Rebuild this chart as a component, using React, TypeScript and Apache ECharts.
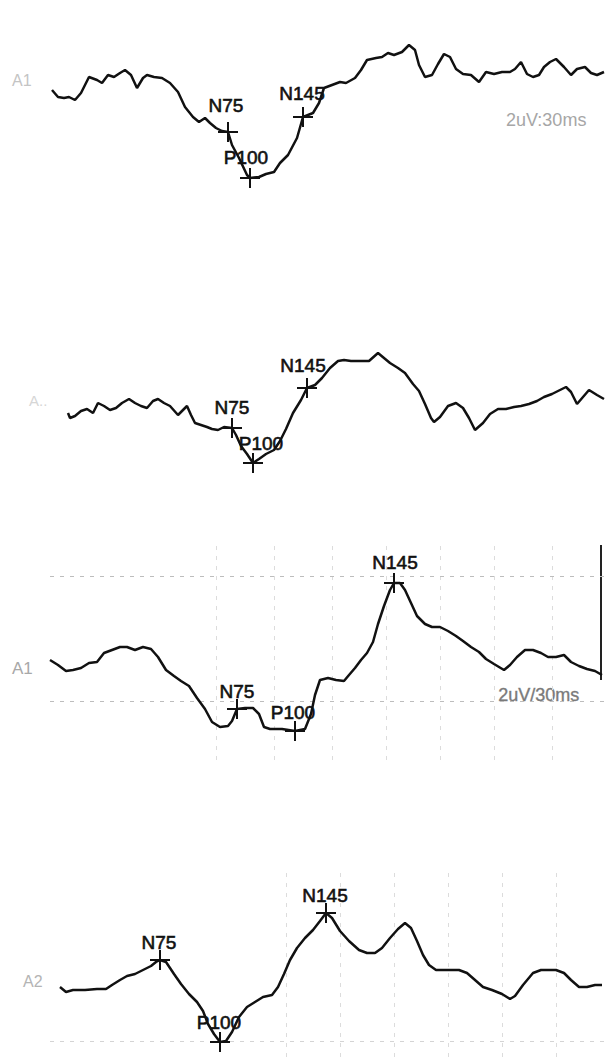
import React, { useEffect, useRef } from "react";
import * as echarts from "echarts";

// Time (ms, relative to trace origin) and amplitude (display units, up = positive)
const peakNames = ["N75", "P100", "N145"];

const tr1Time = [2, 8, 14, 19, 25, 31, 39, 47, 52, 58, 64, 70, 75, 81, 87, 93, 97, 104, 112, 120, 128, 135, 143, 149, 155, 160, 166, 172, 178, 182, 189, 197, 200, 209, 216, 224, 230, 238, 247, 253, 263, 269, 274, 282, 290, 296, 305, 311, 317, 326, 332, 338, 344, 352, 359, 365, 369, 375, 382, 388, 394, 400, 406, 413, 421, 429, 436, 444, 452, 460, 465, 471, 477, 483, 489, 494, 500, 506, 514, 521, 527, 535, 541, 547, 554];
const tr1Amp = [0, -7, -8, -7, -10, -3, 13, 10, 7, 15, 13, 17, 20, 15, 2, 12, 15, 13, 12, 7, -2, -17, -27, -32, -28, -33, -38, -41, -42, -55, -68, -85, -88, -87, -84, -82, -73, -65, -48, -27, -23, -13, 2, 5, 8, 7, 12, 20, 30, 32, 33, 37, 35, 38, 45, 40, 25, 13, 15, 26, 36, 33, 21, 16, 15, 8, 18, 16, 18, 18, 21, 28, 16, 13, 15, 23, 28, 31, 23, 15, 21, 23, 17, 15, 18];
const tr1PeakTime = [178, 200, 253];
const tr1PeakAmp = [-42, -88, -27];

const tr2Time = [18, 20, 25, 31, 37, 43, 48, 54, 60, 66, 72, 79, 85, 91, 97, 103, 108, 114, 120, 128, 133, 137, 141, 145, 151, 157, 162, 168, 174, 182, 186, 191, 197, 203, 209, 216, 224, 230, 236, 243, 251, 257, 265, 272, 280, 288, 294, 301, 309, 319, 328, 334, 340, 348, 355, 363, 369, 375, 381, 384, 390, 398, 406, 413, 419, 425, 433, 440, 448, 456, 464, 471, 479, 487, 494, 502, 510, 516, 521, 527, 533, 539, 547, 554];
const tr2Amp = [0, -5, -3, 2, 4, 0, 10, 7, 3, 5, 10, 14, 10, 7, 5, 12, 14, 10, 7, -2, 3, 7, -2, -10, -12, -14, -16, -17, -14, -15, -22, -33, -41, -50, -46, -41, -37, -28, -16, 0, 13, 25, 28, 35, 45, 52, 53, 52, 52, 52, 60, 55, 50, 45, 40, 29, 22, 9, -5, -9, -4, 7, 10, 5, -5, -17, -10, -1, 4, 4, 6, 7, 9, 12, 16, 19, 23, 26, 21, 9, 16, 23, 18, 14];
const tr2PeakTime = [182, 203, 257];
const tr2PeakAmp = [-15, -50, 25];

const tr3Time = [0, 8, 16, 23, 31, 39, 47, 54, 62, 70, 77, 85, 93, 101, 108, 116, 124, 131, 139, 147, 155, 162, 170, 178, 182, 187, 195, 203, 209, 214, 220, 232, 245, 255, 261, 265, 270, 278, 286, 294, 299, 305, 311, 317, 323, 328, 334, 340, 344, 350, 355, 361, 367, 375, 382, 390, 398, 406, 413, 421, 429, 436, 444, 454, 460, 467, 475, 483, 491, 498, 506, 514, 521, 529, 537, 545, 552];
const tr3Amp = [0, -5, -11, -10, -8, -3, -2, 7, 10, 13, 13, 10, 13, 11, 3, -10, -16, -21, -26, -38, -49, -62, -67, -66, -61, -49, -48, -48, -54, -67, -69, -69, -71, -69, -54, -35, -20, -18, -20, -21, -15, -8, 0, 7, 18, 36, 54, 70, 77, 77, 70, 57, 44, 36, 33, 33, 29, 24, 19, 13, 8, 1, -4, -10, -5, 3, 10, 10, 7, 3, 3, 5, -2, -6, -9, -11, -15];
const tr3PeakTime = [187, 245, 344];
const tr3PeakAmp = [-49, -71, 77];

const tr4Time = [10, 16, 23, 35, 47, 56, 62, 70, 77, 85, 93, 101, 106, 110, 116, 124, 131, 139, 147, 153, 158, 164, 170, 176, 182, 189, 197, 205, 213, 222, 228, 234, 240, 247, 255, 263, 270, 276, 282, 290, 299, 309, 317, 325, 332, 340, 348, 355, 361, 367, 373, 379, 386, 398, 409, 417, 425, 433, 442, 452, 460, 465, 473, 483, 491, 498, 506, 514, 521, 529, 537, 545, 552];
const tr4Amp = [0, -5, -3, -3, -2, -2, 2, 7, 11, 13, 17, 21, 25, 27, 25, 13, 3, -7, -15, -24, -37, -47, -55, -54, -45, -30, -20, -15, -10, -8, 0, 13, 27, 39, 49, 57, 66, 74, 69, 56, 46, 37, 34, 34, 39, 49, 58, 64, 59, 46, 32, 22, 17, 17, 17, 14, 7, 0, -3, -7, -12, -9, 2, 14, 17, 17, 17, 14, 7, 0, 0, 2, 2];
const tr4PeakTime = [110, 170, 276];
const tr4PeakAmp = [27, -55, 74];

// faint chart-paper grid (time / amplitude values)
const grid3Times = [166, 224, 282, 336, 390, 444, 502];
const grid3Amps = [84, -41];
const grid4Times = [236, 290, 344, 398, 452, 506];
const grid4Amps = [-54];

const CROSS = "path://M9,0h2v9h9v2h-9v9h-2v-9h-9v-2h9z";
const FONT = "Liberation Sans, Arial, sans-serif";

const panels = [
  { time: tr1Time, amp: tr1Amp, pt: tr1PeakTime, pa: tr1PeakAmp, top: 20, height: 180, yMax: 70, off: [[-2, -27], [-4, -21], [-1, -24]], gt: [], ga: [], vc: "#ddd", hc: "#ddd" },
  { time: tr2Time, amp: tr2Amp, pt: tr2PeakTime, pa: tr2PeakAmp, top: 330, height: 150, yMax: 83, off: [[0, -21], [8, -20], [-4, -23]], gt: [], ga: [], vc: "#ddd", hc: "#ddd" },
  { time: tr3Time, amp: tr3Amp, pt: tr3PeakTime, pa: tr3PeakAmp, top: 540, height: 220, yMax: 120, off: [[0, -18], [-2, -19], [1, -21]], gt: grid3Times, ga: grid3Amps, vc: "#dcdcdc", hc: "#bdbdbd" },
  { time: tr4Time, amp: tr4Amp, pt: tr4PeakTime, pa: tr4PeakAmp, top: 870, height: 187, yMax: 117, off: [[-1, -18], [-1, -20], [-1, -18]], gt: grid4Times, ga: grid4Amps, vc: "#dcdcdc", hc: "#d4d4d4" },
];

export default function App() {
  const ref = useRef<HTMLDivElement>(null);
  useEffect(() => {
    if (!ref.current) return;
    const chart = echarts.init(ref.current, undefined, { renderer: "svg" });
    const grid = panels.map((p) => ({ left: 50, right: 0, top: p.top, height: p.height, containLabel: false }));
    const xAxis = panels.map((_, i) => ({ type: "value", gridIndex: i, min: 0, max: 555, show: false }));
    const yAxis = panels.map((p, i) => ({ type: "value", gridIndex: i, min: p.yMax - p.height, max: p.yMax, show: false }));
    const series = panels.map((p, i) => ({
      type: "line",
      xAxisIndex: i,
      yAxisIndex: i,
      data: p.time.map((t, k) => [t, p.amp[k]]),
      showSymbol: false,
      lineStyle: { color: "#111", width: 2.5 },
      z: 3,
      markLine: {
        silent: true,
        symbol: ["none", "none"],
        label: { show: false },
        lineStyle: { type: [4, 6], width: 1 },
        data: [
          ...p.gt.map((v) => ({ xAxis: v, lineStyle: { color: p.vc } })),
          ...p.ga.map((v) => ({ yAxis: v, lineStyle: { color: p.hc } })),
        ],
        z: 1,
      },
      markPoint: {
        symbol: CROSS,
        symbolSize: [20, 20],
        itemStyle: { color: "#111" },
        label: {
          show: true,
          position: "inside",
          formatter: "{b}",
          color: "#111",
          fontSize: 19,
          fontFamily: FONT,
          textBorderColor: "#111",
          textBorderWidth: 0.6,
        },
        data: peakNames.map((n, k) => ({
          name: n,
          coord: [p.pt[k], p.pa[k]],
          label: { offset: p.off[k] },
        })),
        z: 5,
      },
    }));
    chart.setOption({
      animation: false,
      backgroundColor: "#ffffff",
      grid,
      xAxis,
      yAxis,
      series,
      graphic: [
        { type: "text", left: 12, top: 72, style: { text: "A1", fontSize: 16, fontFamily: FONT, fill: "#c4c4c4" } },
        { type: "text", left: 29, top: 393, style: { text: "A..", fontSize: 15, fontFamily: FONT, fill: "#d6d6d6" } },
        { type: "text", left: 12, top: 660, style: { text: "A1", fontSize: 17, fontFamily: FONT, fill: "#a8a8a8" } },
        { type: "text", left: 23, top: 973, style: { text: "A2", fontSize: 16, fontFamily: FONT, fill: "#b4b4b4" } },
        { type: "text", left: 506, top: 111, style: { text: "2uV:30ms", fontSize: 18, fontFamily: FONT, fill: "#a6a6a6" } },
        { type: "text", left: 498, top: 686, style: { text: "2uV/30ms", fontSize: 18, fontFamily: FONT, fill: "#7a7a7a", stroke: "#8a8a8a", lineWidth: 0.4 } },
        { type: "line", shape: { x1: 601, y1: 545, x2: 601, y2: 680 }, style: { stroke: "#222", lineWidth: 2 } },
      ],
    });
    return () => chart.dispose();
  }, []);
  return <div ref={ref} style={{ position: "fixed", left: 0, top: 0, width: 605, height: 1057, background: "#fff" }} />;
}
